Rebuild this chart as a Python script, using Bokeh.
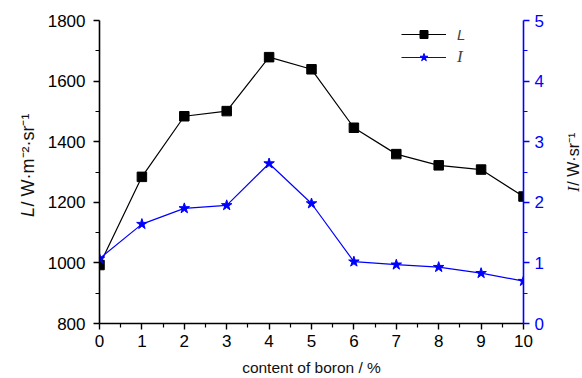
import math
from bokeh.plotting import figure
from bokeh.layouts import row
from bokeh.models import Range1d, LinearAxis, Legend, LegendItem, FixedTicker
from bokeh.core.properties import value
from bokeh.embed import file_html
from bokeh.resources import INLINE

boron = [0, 1, 2, 3, 4, 5, 6, 7, 8, 9, 10]
L_vals = [993, 1284, 1484, 1501, 1679, 1639, 1446, 1359, 1322, 1308, 1219]
I_vals = [1.07, 1.64, 1.90, 1.95, 2.64, 1.98, 1.02, 0.97, 0.93, 0.83, 0.70]
left_ticks = [800, 1000, 1200, 1400, 1600, 1800]
right_ticks = [0, 1, 2, 3, 4, 5]
x_ticks = list(range(0, 11))
x_title = "content of boron / %"
left_title = ["L", " / W·m⁻²·sr⁻¹"]
right_title = ["I", " / W·sr⁻¹"]

FONT = "Liberation Sans"
BLUE = "#0000ff"
H = 378


def blank(width):
    f = figure(width=width, height=H, output_backend="svg", toolbar_location=None,
               x_range=Range1d(0, width), y_range=Range1d(0, H),
               min_border=0, x_axis_location=None, y_axis_location=None)
    f.outline_line_color = None
    f.grid.visible = False
    return f


# left title panel
lf = blank(40)
lf.text(x=[27], y=[H - 245], text=[left_title[0]], angle=math.pi / 2,
        text_font=value(FONT), text_font_style="italic", text_font_size="18px",
        text_align="left", text_baseline="middle", text_color="#111111")
lf.text(x=[27], y=[H - 232], text=[left_title[1]], angle=math.pi / 2,
        text_font=value(FONT), text_font_size="18px",
        text_align="left", text_baseline="middle", text_color="#111111")

# right title panel
rf = blank(29)
rf.text(x=[20], y=[H - 214], text=[right_title[0]], angle=math.pi / 2,
        text_font=value("Liberation Serif"), text_font_style="italic", text_font_size="17px",
        text_align="left", text_baseline="middle", text_color="#111111")
rf.text(x=[20], y=[H - 206], text=[right_title[1]], angle=math.pi / 2,
        text_font=value(FONT), text_font_size="16px",
        text_align="left", text_baseline="middle", text_color="#111111")

p = figure(width=513, height=H, output_backend="svg", toolbar_location=None,
           x_range=Range1d(0, 10), y_range=Range1d(800, 1800),
           min_border_left=59, min_border_right=30, min_border_top=20, min_border_bottom=54,
           x_axis_location=None, y_axis_location=None)
p.outline_line_color = None
p.grid.visible = False
p.extra_y_ranges = {"I": Range1d(0, 5)}

xa = LinearAxis(ticker=FixedTicker(ticks=x_ticks, minor_ticks=[i + 0.5 for i in range(10)]))
xa.axis_label = x_title
ya = LinearAxis(ticker=FixedTicker(ticks=left_ticks, minor_ticks=[900, 1100, 1300, 1500, 1700]))
ra = LinearAxis(y_range_name="I", ticker=FixedTicker(ticks=right_ticks, minor_ticks=[0.5, 1.5, 2.5, 3.5, 4.5]))

for ax, col in ((xa, "black"), (ya, "black"), (ra, BLUE)):
    ax.axis_line_color = col
    ax.axis_line_width = 1.6
    ax.major_tick_line_color = col
    ax.minor_tick_line_color = col
    ax.major_tick_line_width = 1.4
    ax.minor_tick_line_width = 1.2
    ax.major_tick_in = 0
    ax.minor_tick_in = 0
    ax.major_tick_out = 6
    ax.minor_tick_out = 4
    ax.major_label_text_font = FONT
    ax.major_label_text_font_size = "17px"
    ax.major_label_text_color = col
    ax.axis_label_text_font = FONT
    ax.axis_label_text_font_size = "15.5px"
    ax.axis_label_text_font_style = "normal"
    ax.axis_label_text_color = "#111111"
xa.major_label_standoff = 5
xa.axis_label_standoff = 9
ya.major_label_standoff = 8
ra.major_label_standoff = 5

p.add_layout(xa, "below")
p.add_layout(ya, "left")
p.add_layout(ra, "right")

l1 = p.line(boron, L_vals, line_color="black", line_width=1.2)
s1 = p.scatter(boron, L_vals, marker="square", size=9.5, fill_color="black", line_color="black")
l2 = p.line(boron, I_vals, line_color=BLUE, line_width=1.2, y_range_name="I")
s2 = p.scatter(boron, I_vals, marker="star", size=11, fill_color=BLUE, line_color=BLUE, y_range_name="I")

leg1 = Legend(items=[LegendItem(label="L", renderers=[l1, s1])], location=(302, 279),
              label_text_font=FONT, label_text_font_style="italic",
              label_text_font_size="15px", glyph_width=45, glyph_height=20, label_height=20,
              label_standoff=11, padding=0, margin=0, border_line_color=None,
              background_fill_alpha=0)
leg2 = Legend(items=[LegendItem(label="I", renderers=[l2, s2])], location=(302, 256),
              label_text_font="Liberation Serif", label_text_font_style="italic",
              label_text_font_size="17px", glyph_width=45, glyph_height=20, label_height=20,
              label_standoff=11, padding=0, margin=0, border_line_color=None,
              background_fill_alpha=0)
p.add_layout(leg1)
p.add_layout(leg2)

layout = row(lf, p, rf, spacing=0)
open("out.html", "w").write(file_html(layout, INLINE))
